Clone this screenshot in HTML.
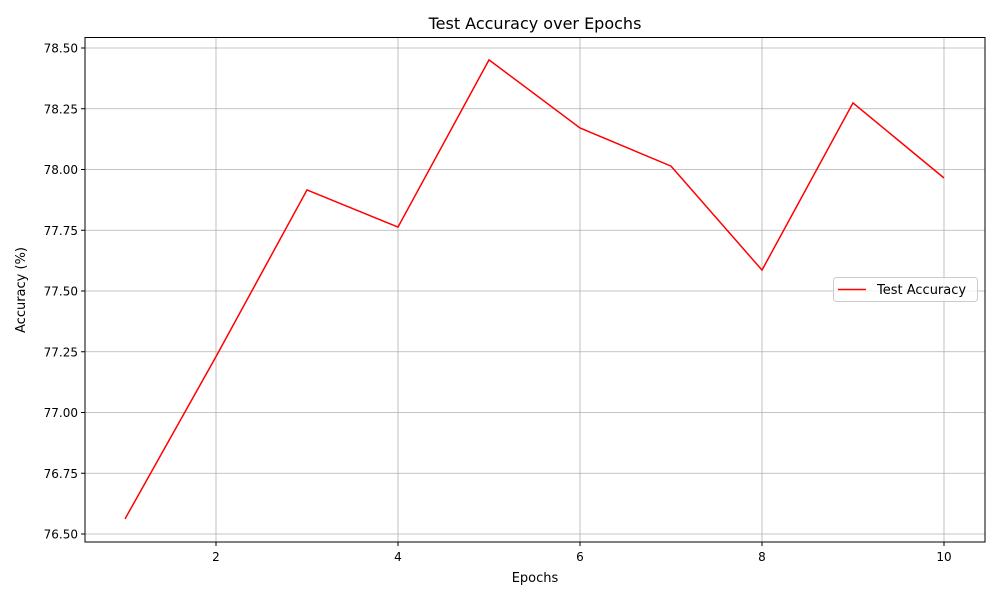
<!DOCTYPE html>
<html><head><meta charset="utf-8"><style>
body{margin:0;background:#fff;}
svg{display:block;font-family:"DejaVu Sans","Liberation Sans",sans-serif;}
</style></head><body>
<svg id="chart" width="1000" height="600">
<text x="535" y="29" text-anchor="middle" font-size="16">Test Accuracy over Epochs</text>
<g id="grid"></g>
<g id="ticks"></g>
<path id="line" fill="none" stroke="#ff0000" stroke-width="1.5"/>
<rect x="85" y="37.5" width="900" height="504.5" fill="none" stroke="#000" stroke-width="1"/>
<text x="535" y="582" text-anchor="middle" font-size="13">Epochs</text>
<text transform="translate(25,290) rotate(-90)" text-anchor="middle" font-size="13">Accuracy (%)</text>
<g>
<rect x="833.5" y="277.5" width="144" height="24" rx="3" fill="#fff" fill-opacity="0.8" stroke="#ccc"/>
<line x1="838" y1="289.5" x2="866" y2="289.5" stroke="#ff0000" stroke-width="1.5"/>
<text x="877" y="294" font-size="13">Test Accuracy</text>
</g>
</svg>
<script>
const epochs=[1,2,3,4,5,6,7,8,9,10];
const accuracy=[76.562,77.23,77.916,77.763,78.451,78.171,78.014,77.586,78.274,77.965];
const xTicks=[2,4,6,8,10];
const yTicks=[76.50,76.75,77.00,77.25,77.50,77.75,78.00,78.25,78.50];
const L=85,R=985,T=37.5,B=542;
const xs=v=>125+(v-1)*91;
const ys=v=>534-(v-76.5)*243;
const NS="http://www.w3.org/2000/svg";
const grid=document.getElementById('grid'),ticks=document.getElementById('ticks');
function mk(tag,attrs,parent){const e=document.createElementNS(NS,tag);for(const k in attrs)e.setAttribute(k,attrs[k]);parent.appendChild(e);return e;}
xTicks.forEach(t=>{const x=xs(t);
const g=mk('line',{x1:x,x2:x,y1:T,y2:B,stroke:'#b0b0b0','stroke-width':0.8},grid);


const tk=mk('line',{x1:x,x2:x,y1:B,y2:B+4,stroke:'#000'},ticks);


const tx=mk('text',{x:x,y:B+19,'text-anchor':'middle','font-size':12},ticks);tx.textContent=t;


});
yTicks.forEach(t=>{const y=ys(t);
const g=mk('line',{x1:L,x2:R,y1:y,y2:y,stroke:'#b0b0b0','stroke-width':0.8},grid);


const tk=mk('line',{x1:L-4,x2:L,y1:y,y2:y,stroke:'#000'},ticks);


const tx=mk('text',{x:L-7,y:y+4.5,'text-anchor':'end','font-size':12},ticks);tx.textContent=t.toFixed(2);


});
document.getElementById('line').setAttribute('d',epochs.map((e,i)=>(i?'L':'M')+xs(e)+','+ys(accuracy[i])).join(' '));
</script>
</body></html>
